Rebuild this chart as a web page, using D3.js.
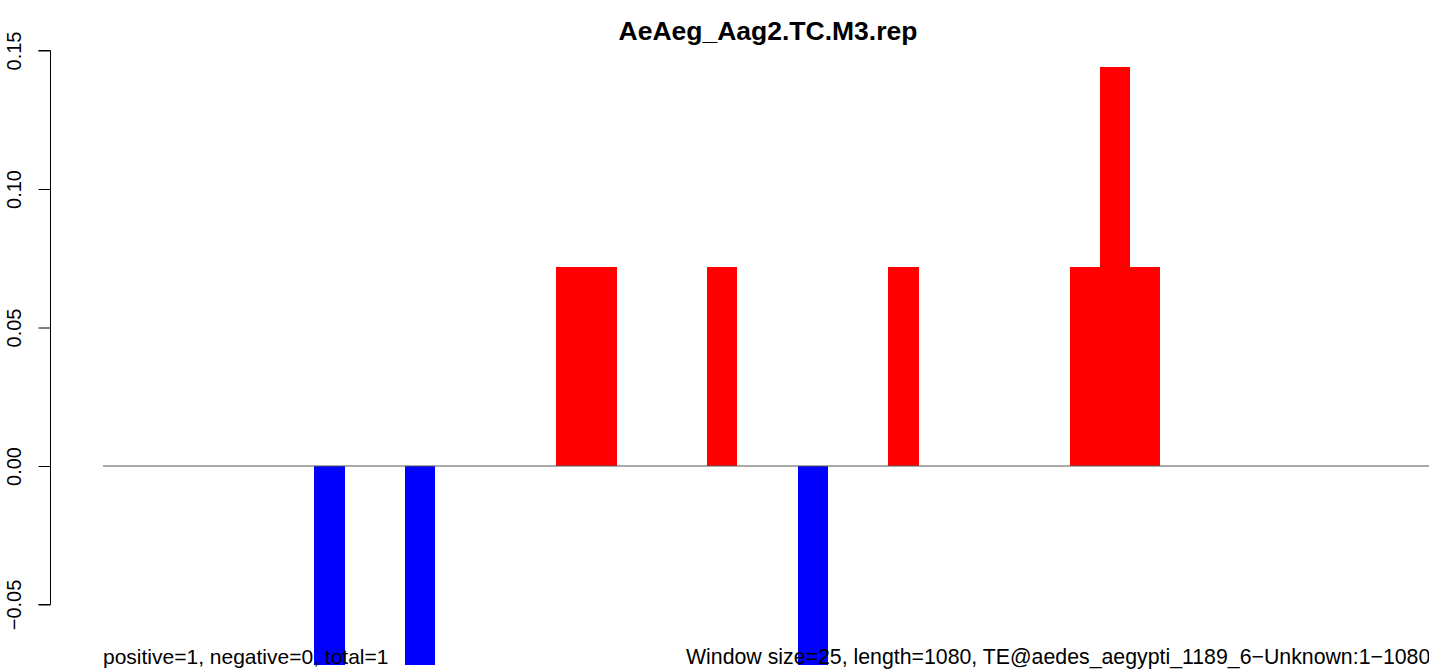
<!DOCTYPE html>
<html>
<head>
<meta charset="utf-8">
<script src="https://cdn.jsdelivr.net/npm/d3@7"></script>
<style>
  body { margin: 0; background: #fff; }
  svg { display: block; font-family: "Liberation Sans", Arial, sans-serif; }
</style>
</head>
<body>
<div id="chart"></div>
<script>
// window start positions (bp) and scores, window size 25, length 1080
const windowStarts = [175, 250, 375, 400, 500, 575, 650, 800, 825, 850];
const scores = [-0.072, -0.072, 0.072, 0.072, 0.072, -0.072, 0.072, 0.072, 0.144, 0.072];
const yTicks = [-0.05, 0.00, 0.05, 0.10, 0.15];
const windowSize = 25;
const seqLength = 1080;
const title = "AeAeg_Aag2.TC.M3.rep";
const leftNote = "positive=1, negative=0, total=1";
const rightNote = "Window size=25, length=1080, TE@aedes_aegypti_1189_6\u2212Unknown:1\u22121080";

const width = 1429, height = 670;

const svg = d3.select("#chart").append("svg")
    .attr("width", width)
    .attr("height", height);

const x = d3.scaleLinear()
    .domain([0, seqLength])
    .range([103, 1408]);

const y = d3.scaleLinear()
    .domain([-0.05, 0.15])
    .range([604.5, 50.5]);

const data = windowStarts.map((s, i) => ({start: s, score: scores[i]}));

// bars
svg.selectAll(".bar")
    .data(data)
    .enter()
    .append("rect")
    .attr("class", "bar")
    .attr("x", d => x(d.start))
    .attr("width", d => x(d.start + windowSize) - x(d.start))
    .attr("y", d => y(Math.max(0, d.score)))
    .attr("height", d => Math.abs(y(d.score) - y(0)))
    .attr("fill", d => d.score >= 0 ? "#ff0000" : "#0000ff")
    .attr("shape-rendering", "crispEdges");

// zero line
svg.append("line")
    .attr("x1", x(0))
    .attr("x2", width)
    .attr("y1", y(0))
    .attr("y2", y(0))
    .attr("stroke", "#555")
    .attr("stroke-width", 1);

// y axis
const yAxis = d3.axisLeft(y)
    .tickValues(yTicks)
    .tickSize(12)
    .tickFormat(d3.format(".2f"));

const axisG = svg.append("g")
    .attr("transform", "translate(50.5,0)")
    .call(yAxis);

axisG.select(".domain")
    .attr("d", `M-12,${y(-0.05)}H0V${y(0.15)}H-12`)
    .attr("stroke", "#000");
axisG.selectAll(".tick line").attr("stroke", "#000");
axisG.selectAll(".tick text")
    .attr("transform", "rotate(-90)")
    .attr("x", 0)
    .attr("y", -30)
    .attr("dy", 0)
    .attr("text-anchor", "middle")
    .attr("font-size", 20)
    .attr("fill", "#000");

// title
svg.append("text")
    .attr("x", 768)
    .attr("y", 40)
    .attr("text-anchor", "middle")
    .attr("font-size", 26.5)
    .attr("font-weight", "bold")
    .text(title);

// bottom notes
svg.append("text")
    .attr("x", 103)
    .attr("y", 664)
    .attr("font-size", 21)
    .text(leftNote);

svg.append("text")
    .attr("x", 686)
    .attr("y", 664)
    .attr("font-size", 21.3)
    .text(rightNote);
</script>
</body>
</html>
